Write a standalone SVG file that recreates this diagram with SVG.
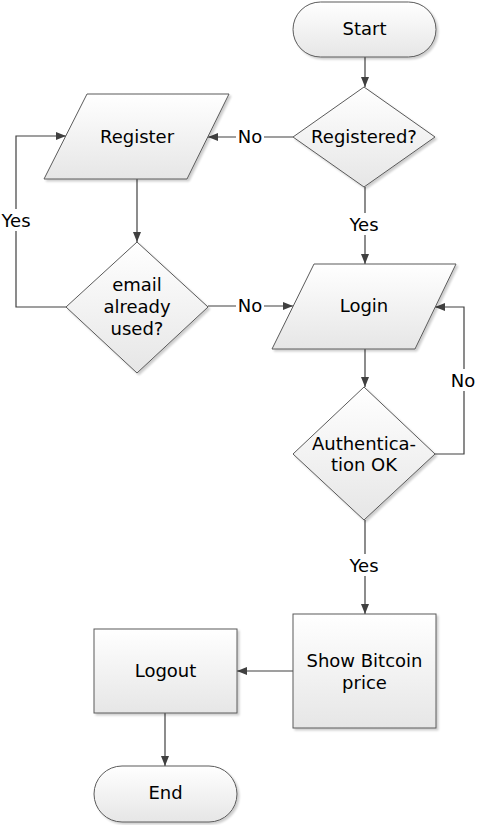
<svg xmlns="http://www.w3.org/2000/svg" width="477" height="825" viewBox="0 0 477 825">
<defs>
<linearGradient id="g" x1="0" y1="0" x2="0" y2="1">
<stop offset="0" stop-color="#ffffff"/>
<stop offset="1" stop-color="#e6e6e6"/>
</linearGradient>
<marker id="arr" viewBox="0 0 10 10" refX="10" refY="5" markerWidth="10" markerHeight="10" markerUnits="userSpaceOnUse" orient="auto">
<path d="M0,1 L10,5 L0,9 Z" fill="#404040"/>
</marker>
<filter id="sh" x="-10%" y="-10%" width="130%" height="130%">
<feGaussianBlur in="SourceAlpha" stdDeviation="1"/>
<feOffset dx="2" dy="2" result="o"/>
<feComponentTransfer><feFuncA type="linear" slope="0.2"/></feComponentTransfer>
<feMerge><feMergeNode/><feMergeNode in="SourceGraphic"/></feMerge>
</filter>
</defs>
<style>
.s{fill:url(#g);stroke:#5a5a5a;stroke-width:1;filter:url(#sh)}
.t{font-family:"DejaVu Sans",Verdana,sans-serif;font-size:18px;fill:#000;text-anchor:middle;dominant-baseline:central}
.c{fill:none;stroke:#404040;stroke-width:1.2}
.a{marker-end:url(#arr)}
.lb{fill:#fff}
</style>
<rect width="477" height="825" fill="#fff"/>
<g id="connectors">
<line class="c a" x1="365" y1="57" x2="365" y2="87"/>
<line class="c a" x1="293" y1="137" x2="208" y2="137"/>
<line class="c a" x1="137" y1="179" x2="137" y2="242"/>
<polyline class="c a" points="66,307 16,307 16,136 66,136"/>
<line class="c a" x1="208" y1="306" x2="293" y2="306"/>
<line class="c a" x1="365" y1="187" x2="365" y2="264"/>
<line class="c a" x1="365" y1="349" x2="365" y2="387"/>
<polyline class="c a" points="435,454 464,454 464,307 435,307"/>
<line class="c a" x1="365" y1="520" x2="365" y2="614"/>
<line class="c a" x1="293" y1="671" x2="237" y2="671"/>
<line class="c a" x1="165" y1="713" x2="165" y2="766"/>
<rect class="lb" x="236" y="126" width="28" height="22"/>
<text class="t" x="250" y="136">No</text>
<rect class="lb" x="0" y="209" width="33" height="22"/>
<text class="t" x="16" y="220">Yes</text>
<rect class="lb" x="236" y="295" width="28" height="22"/>
<text class="t" x="250" y="305">No</text>
<rect class="lb" x="348" y="213" width="33" height="22"/>
<text class="t" x="364" y="224">Yes</text>
<rect class="lb" x="450" y="369" width="28" height="22"/>
<text class="t" x="463" y="380">No</text>
<rect class="lb" x="348" y="554" width="33" height="22"/>
<text class="t" x="364" y="565">Yes</text>
</g>
<g id="start">
<rect class="s" x="293" y="2" width="143" height="55" rx="27.5"/>
<text class="t" x="364.5" y="28">Start</text>
</g>
<g id="registered">
<polygon class="s" points="364,87 435,137 364,187 293,137"/>
<text class="t" x="364" y="136">Registered?</text>
</g>
<g id="register">
<polygon class="s" points="87,94 229,94 187,179 44,179"/>
<text class="t" x="137" y="136">Register</text>
</g>
<g id="email">
<polygon class="s" points="137,242 208,307 137,373 66,307"/>
<text class="t" x="137" y="284">email</text>
<text class="t" x="137" y="306">already</text>
<text class="t" x="137" y="328">used?</text>
</g>
<g id="login">
<polygon class="s" points="314,264 456,264 415,349 272,349"/>
<text class="t" x="364" y="305">Login</text>
</g>
<g id="auth">
<polygon class="s" points="364,387 435,454 364,520 293,454"/>
<text class="t" x="364" y="443">Authentica-</text>
<text class="t" x="364" y="464">tion OK</text>
</g>
<g id="show">
<rect class="s" x="293" y="614" width="143" height="114"/>
<text class="t" x="364.5" y="660">Show Bitcoin</text>
<text class="t" x="364.5" y="682">price</text>
</g>
<g id="logout">
<rect class="s" x="94" y="629" width="143" height="84"/>
<text class="t" x="165.5" y="670">Logout</text>
</g>
<g id="end">
<rect class="s" x="94" y="766" width="143" height="56" rx="28"/>
<text class="t" x="165.5" y="792">End</text>
</g>
</svg>
